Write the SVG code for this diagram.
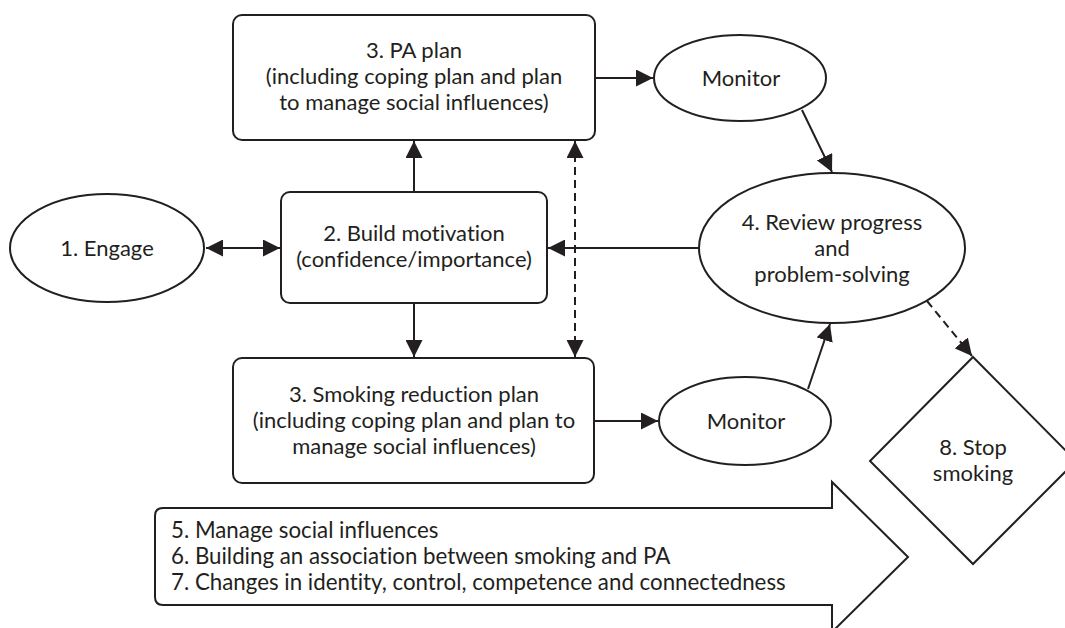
<svg xmlns="http://www.w3.org/2000/svg" width="1065" height="628" viewBox="0 0 1065 628">
<style>
.shape{fill:#fff;stroke:#231f20;stroke-width:2}
.t{font-family:Lato,"Liberation Sans",sans-serif;font-size:22px;fill:#231f20;text-anchor:middle;font-variant-ligatures:none}
.tl{font-family:Lato,"Liberation Sans",sans-serif;font-size:22.3px;fill:#231f20;font-variant-ligatures:none}
.c{fill:none;stroke:#231f20;stroke-width:2}
.d{stroke-dasharray:8 5}
</style>
<defs>
<marker id="ah" viewBox="0 0 17 17" refX="17" refY="8.5" markerWidth="17" markerHeight="17" markerUnits="userSpaceOnUse" orient="auto-start-reverse">
<path d="M0,0 L17,8.5 L0,17 Z" fill="#231f20"/>
</marker>
</defs>
<rect width="1065" height="628" fill="#fff"/>
<g id="connectors">
<line class="c" x1="206" y1="248" x2="280" y2="248" marker-start="url(#ah)" marker-end="url(#ah)"/>
<line class="c" x1="414" y1="192" x2="414" y2="141" marker-end="url(#ah)"/>
<line class="c" x1="414" y1="303" x2="414" y2="357" marker-end="url(#ah)"/>
<line class="c d" x1="575" y1="141" x2="575" y2="357" marker-start="url(#ah)" marker-end="url(#ah)"/>
<line class="c" x1="699" y1="248" x2="548" y2="248" marker-end="url(#ah)"/>
<line class="c" x1="595" y1="78" x2="653" y2="78" marker-end="url(#ah)"/>
<line class="c" x1="802" y1="110" x2="832" y2="172" marker-end="url(#ah)"/>
<line class="c" x1="594" y1="421" x2="658" y2="421" marker-end="url(#ah)"/>
<line class="c" x1="808" y1="389" x2="830" y2="324" marker-end="url(#ah)"/>
<line class="c d" x1="927" y1="301" x2="972" y2="356" marker-end="url(#ah)"/>
</g>
<g id="engage">
<ellipse class="shape" cx="107" cy="248" rx="97" ry="54"/>
<text class="t" x="107" y="256">1. Engage</text>
</g>
<g id="pa-plan">
<rect class="shape" x="233" y="15" width="362" height="125" rx="9"/>
<text class="t" x="414" y="58">3. PA plan</text>
<text class="t" x="414" y="84">(including coping plan and plan</text>
<text class="t" x="414" y="110">to manage social influences)</text>
</g>
<g id="build-motivation">
<rect class="shape" x="281" y="192" width="266" height="111" rx="9"/>
<text class="t" x="414" y="241">2. Build motivation</text>
<text class="t" x="414" y="267">(confidence/importance)</text>
</g>
<g id="smoking-plan">
<rect class="shape" x="233" y="358" width="361" height="125" rx="9"/>
<text class="t" x="414" y="402">3. Smoking reduction plan</text>
<text class="t" x="414" y="428">(including coping plan and plan to</text>
<text class="t" x="414" y="454">manage social influences)</text>
</g>
<g id="monitor-1">
<ellipse class="shape" cx="740" cy="78" rx="86" ry="43"/>
<text class="t" x="741" y="86">Monitor</text>
</g>
<g id="monitor-2">
<ellipse class="shape" cx="745" cy="421" rx="86" ry="44"/>
<text class="t" x="746" y="429">Monitor</text>
</g>
<g id="review">
<ellipse class="shape" cx="832" cy="248" rx="133" ry="75"/>
<text class="t" x="832" y="230">4. Review progress</text>
<text class="t" x="832" y="256">and</text>
<text class="t" x="832" y="282">problem-solving</text>
</g>
<g id="stop-smoking">
<polygon class="shape" points="973,357 1076,461 973,564 870,461"/>
<text class="t" x="973" y="455">8. Stop</text>
<text class="t" x="973" y="481">smoking</text>
</g>
<g id="processes">
<path class="shape" d="M163,508 L832,508 L832,482 L908,557 L832,632 L832,605 L163,605 Q155,605 155,597 L155,516 Q155,508 163,508 Z"/>
<text class="tl" x="171" y="538">5. Manage social influences</text>
<text class="tl" x="171" y="564">6. Building an association between smoking and PA</text>
<text class="tl" x="171" y="590">7. Changes in identity, control, competence and connectedness</text>
</g>
</svg>
